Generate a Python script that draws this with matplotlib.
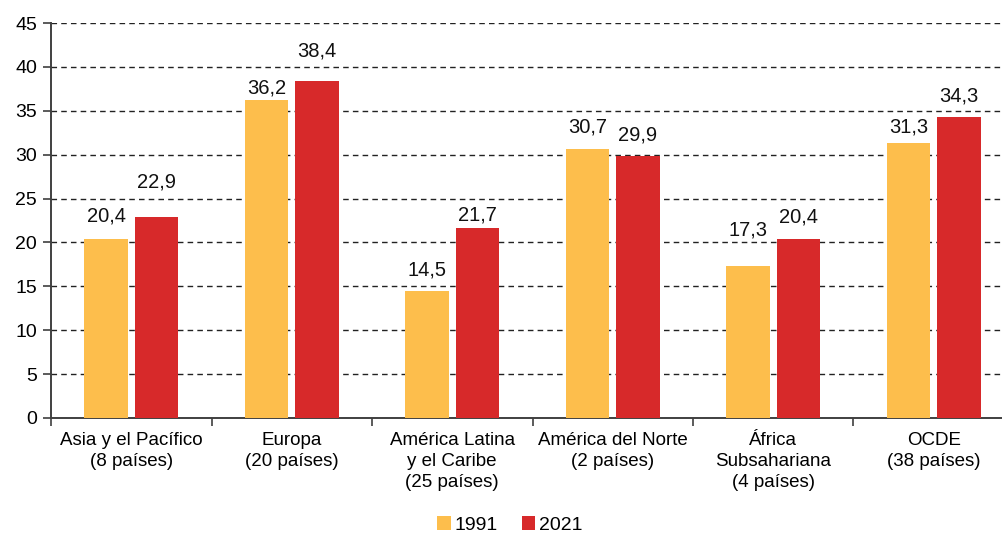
import matplotlib.pyplot as plt
import numpy as np

plt.rcParams['font.family'] = ['Liberation Sans', 'DejaVu Sans']

categories = ['Asia y el Pacífico\n(8 países)', 'Europa\n(20 países)',
              'América Latina\ny el Caribe\n(25 países)', 'América del Norte\n(2 países)',
              'África\nSubsahariana\n(4 países)', 'OCDE\n(38 países)']
years = ['1991', '2021']
vals_1991 = [20.4, 36.2, 14.5, 30.7, 17.3, 31.3]
vals_2021 = [22.9, 38.4, 21.7, 29.9, 20.4, 34.3]

# label gaps above bar tops (pixels), hand-placed in the original
gap_1991 = [17, 7, 15, 16, 31, 11]
gap_2021 = [29, 24, 7, 15, 16, 15]

c1991 = '#FDBE4C'
c2021 = '#D7292A'

fig = plt.figure(figsize=(10.02, 5.36), dpi=100)
ax = fig.add_axes([51 / 1002, 118 / 536, 963 / 1002, 395 / 536])

x = np.arange(len(categories))
w = 0.272
off = 0.157
b1 = ax.bar(x - off, vals_1991, w, color=c1991, label=years[0], zorder=3)
b2 = ax.bar(x + off, vals_2021, w, color=c2021, label=years[1], zorder=3)

def fmt(v):
    return f'{v:.1f}'.replace('.', ',')

for bars, vals, gaps in [(b1, vals_1991, gap_1991), (b2, vals_2021, gap_2021)]:
    for r, v, g in zip(bars, vals, gaps):
        ax.annotate(fmt(v), (r.get_x() + r.get_width() / 2, v),
                    xytext=(0, g), textcoords='offset pixels',
                    ha='center', va='baseline', fontsize=14.5, color='#111111')

ax.set_xlim(-0.5, len(categories) - 0.5)
ax.set_ylim(0, 45)
ax.set_yticks(np.arange(0, 46, 5))
ax.yaxis.grid(True, linestyle=(0, (4, 3)), color='#222222', linewidth=1, zorder=0)
ax.set_axisbelow(True)

ax.set_xticks(np.arange(len(categories) + 1) - 0.5)
ax.set_xticklabels([])
ax.set_xticks(x, minor=True)
ax.set_xticklabels(categories, minor=True, fontsize=13.5, linespacing=1.3)
ax.tick_params(axis='x', which='minor', length=0, pad=10)
ax.tick_params(axis='x', which='major', length=6, width=1.2, color='#404040', direction='out')
ax.tick_params(axis='y', length=6, width=1.2, color='#404040', labelsize=14, pad=4)

for s in ['top', 'right']:
    ax.spines[s].set_visible(False)
for s in ['left', 'bottom']:
    ax.spines[s].set_color('#404040')
    ax.spines[s].set_linewidth(1.4)

fig.legend(loc='center', bbox_to_anchor=(510 / 1002, 11 / 536), ncol=2, frameon=False,
           fontsize=14, handlelength=0.7, handleheight=0.7, handletextpad=0.2,
           columnspacing=1.2)

fig.savefig('out.png', dpi=100)
